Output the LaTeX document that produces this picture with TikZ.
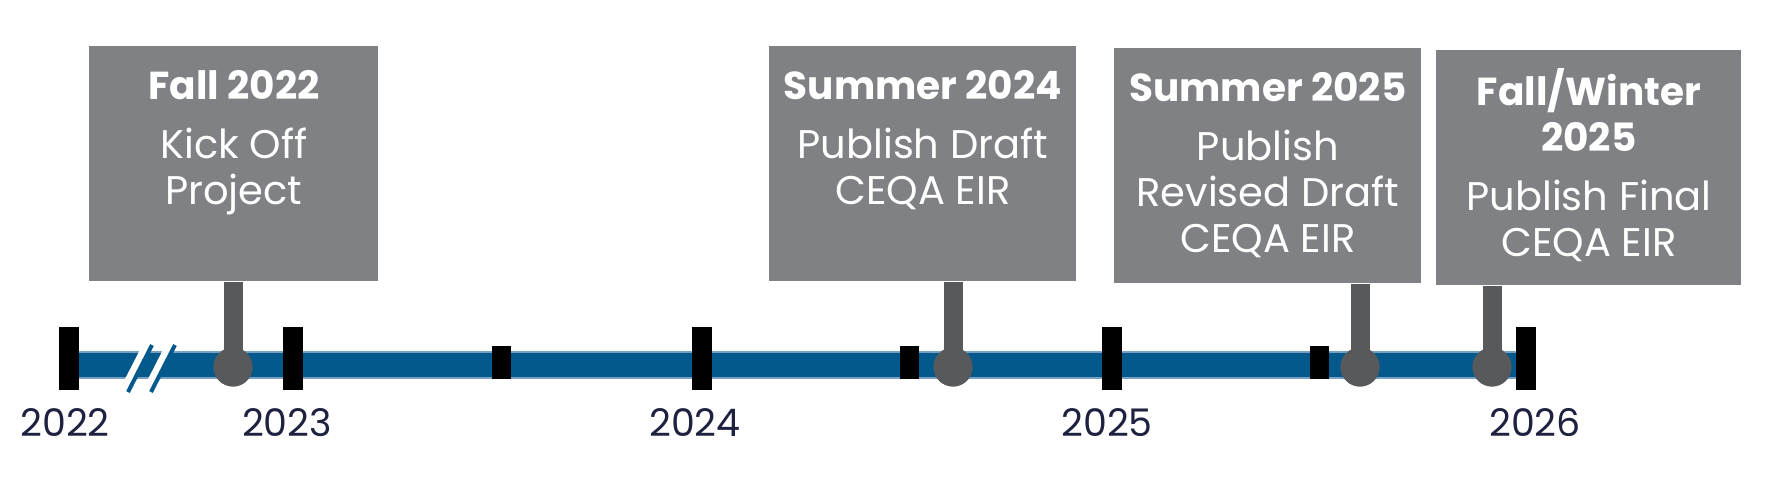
\documentclass[tikz,border=0pt]{standalone}
\usepackage{fontspec}
\setmainfont{Poppins}
\usetikzlibrary{positioning}
\definecolor{barblue}{RGB}{3,88,140}
\definecolor{edgeblue}{RGB}{120,160,196}
\definecolor{cardgray}{RGB}{128,129,132}
\definecolor{stemgray}{RGB}{88,89,91}
\definecolor{yearnavy}{RGB}{30,33,64}
\newcommand{\cardhead}[1]{{\fontsize{19.5}{22.5}\selectfont\bfseries #1}}
\begin{document}
\begin{tikzpicture}[x=0.5pt,y=-0.5pt,
    card/.style={fill=cardgray, anchor=north west, inner sep=0pt, minimum height=117.5pt},
    cardtext/.style={text=white, align=center, inner sep=0pt, font=\fontsize{20}{23}\selectfont},
    dot/.style={circle, fill=stemgray, inner sep=0pt, minimum size=19.5pt},
    stem/.style={stemgray, line width=9.5pt},
    year/.style={text=yearnavy, font=\fontsize{19}{22}\selectfont}]
    \useasboundingbox (0,0) rectangle (1782,484);

    % Draw timeline
    \fill[barblue] (69,352) rectangle (1526,378);
    \draw[edgeblue, line width=0.8pt] (69,352) -- (1526,352) (69,378) -- (1526,378);

    % break marks
    \foreach \x in {140,163} {
        \draw[white, line width=5pt] (\x-16,392) -- (\x+8,345);
        \draw[barblue, line width=2pt] (\x-12,392) -- (\x+12,345);
    }

    % year ticks
    \foreach \x/\lx/\yr in {69/65/2022, 293/287/2023, 702/695/2024, 1112/1107/2025, 1526/1535/2026} {
        \fill[black] (\x-10,327) rectangle (\x+10,390);
        \node[year] (y\yr) at (\lx,423) {\yr};
    }

    % half year ticks
    \foreach \x in {501,909,1319}
        \fill[black] (\x-9.5,346) rectangle (\x+9.5,379);

    % milestones
    \node[card, minimum width=144.5pt] (b1) at (89,46) {};
    \node[card, minimum width=153.5pt] (b2) at (769,46) {};
    \node[card, minimum width=153.5pt] (b3) at (1114,48) {};
    \node[card, minimum width=152.5pt] (b4) at (1436,50) {};

    \node[cardtext, below=12pt of b1.north] (t1) {\cardhead{Fall 2022}\\[6.5pt]Kick Off\\Project};
    \node[cardtext, below=12pt of b2.north] (t2) {\cardhead{Summer 2024}\\[6.5pt]Publish Draft\\CEQA EIR};
    \node[cardtext, below=12pt of b3.north] (t3) {\cardhead{Summer 2025}\\[6.5pt]Publish\\Revised Draft\\CEQA EIR};
    \node[cardtext, below=9pt of b4.north] (t4) {\cardhead{Fall/Winter}\\\cardhead{2025}\\[6.5pt]Publish Final\\CEQA EIR};

    \node[dot] (d1) at (233,367) {};
    \node[dot] (d2) at (953,367) {};
    \node[dot] (d3) at (1360,367) {};
    \node[dot] (d4) at (1492,367) {};

    \draw[stem] (d1 |- b1.south) -- (d1.center);
    \draw[stem] (d2 |- b2.south) -- (d2.center);
    \draw[stem] (d3 |- b3.south) -- (d3.center);
    \draw[stem] (d4 |- b4.south) -- (d4.center);
    \node[dot] at (d1) {};
    \node[dot] at (d2) {};
    \node[dot] at (d3) {};
    \node[dot] at (d4) {};
  \end{tikzpicture}
\end{document}
